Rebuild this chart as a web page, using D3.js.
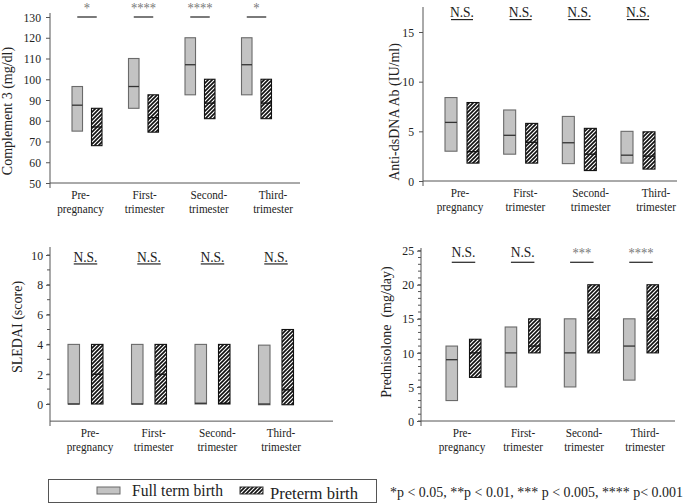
<!DOCTYPE html>
<html><head><meta charset="utf-8">
<script src="https://cdn.jsdelivr.net/npm/d3@7"></script>
<style>html,body{margin:0;padding:0;background:#fff;} svg{display:block;}</style>
</head><body>
<script>
// ---------------- DATA ----------------
const categories = ["Pre-pregnancy", "First-trimester", "Second-trimester", "Third-trimester"];
const categoryLines = [["Pre-", "pregnancy"], ["First-", "trimester"], ["Second-", "trimester"], ["Third-", "trimester"]];
const series = ["Full term birth", "Preterm birth"];

// [low, median, high]
const c3Full     = [[75, 87.5, 96.5], [86, 96.5, 110], [92.5, 107, 120], [92.5, 107, 120]];
const c3Preterm  = [[68, 77, 86], [74.5, 81.5, 92.5], [81, 88.5, 100], [81, 88.5, 100]];
const c3Sig      = ["*", "****", "****", "*"];
const c3Ticks    = [50, 60, 70, 80, 90, 100, 110, 120, 130];

const dnaFull    = [[3.0, 5.9, 8.4], [2.7, 4.6, 7.15], [1.75, 3.85, 6.5], [1.8, 2.6, 5.0]];
const dnaPreterm = [[1.8, 2.95, 7.9], [1.8, 3.9, 5.8], [1.05, 2.7, 5.3], [1.2, 2.5, 4.95]];
const dnaSig     = ["N.S.", "N.S.", "N.S.", "N.S."];
const dnaTicks   = [0, 5, 10, 15];

const sledaiFull    = [[0, 0, 4], [0, 0, 4], [0, 0.05, 4], [-0.05, 0, 3.95]];
const sledaiPreterm = [[0, 2, 4], [0, 2, 4], [0, 0.05, 4], [-0.05, 0.95, 5]];
const sledaiSig     = ["N.S.", "N.S.", "N.S.", "N.S."];
const sledaiTicks   = [0, 2, 4, 6, 8, 10];

const predFull    = [[3, 9, 11], [5, 10, 13.8], [5, 10, 15], [6, 11, 15]];
const predPreterm = [[6.4, 10, 12], [10, 11, 15], [10, 15, 20], [10, 15, 20]];
const predSig     = ["N.S.", "N.S.", "***", "****"];
const predTicks   = [0, 5, 10, 15, 20, 25];

const footnote = "*p < 0.05, **p < 0.01, *** p < 0.005, **** p< 0.001";

// ---------------- LAYOUT ----------------
const W = 685, H = 503;
const FONT = "'Liberation Serif', 'Times New Roman', serif";
const svg = d3.select("body").append("svg").attr("width", W).attr("height", H);

const defs = svg.append("defs");
const pat = defs.append("pattern").attr("id", "hatch").attr("patternUnits", "userSpaceOnUse")
  .attr("width", 4).attr("height", 4);
pat.append("rect").attr("width", 4).attr("height", 4).attr("fill", "#fff");
pat.append("path").attr("d", "M-1,1 l2,-2 M0,4 l4,-4 M3,5 l2,-2")
  .attr("stroke", "#111").attr("stroke-width", 1.65);

function squish(sel, k) {
  sel.each(function () {
    const len = this.getComputedTextLength();
    d3.select(this).attr("textLength", len * k).attr("lengthAdjust", "spacingAndGlyphs");
  });
}

const panels = [
  { full: c3Full, pre: c3Preterm, sig: c3Sig, ticks: c3Ticks, domain: [50, 130], yRange: [183, 17],
    axisX: 50, axisRight: 300, axisTop: 13, axisBottom: 188, xAxisVal: 50,
    centers: [87, 256.5], labelRange: [80.5, 273], half: 15, pi: 0.46,
    sigVal: 130, sigDy: -5, title: "Complement 3 (mg/dl)", titleX: 12, titleY: 111, minor: null, tickPad: 5 },
  { full: dnaFull, pre: dnaPreterm, sig: dnaSig, ticks: dnaTicks, domain: [0, 15], yRange: [181, 32],
    axisX: 423, axisRight: 677, axisTop: 7, axisBottom: 186, xAxisVal: 0,
    centers: [462, 638], labelRange: [460, 656], half: 17, pi: 0.455,
    sigVal: 16.25, sigDy: -3, title: "Anti-dsDNA Ab (IU/ml)", titleX: 398.5, titleY: 112, minor: null, tickPad: 5 },
  { full: sledaiFull, pre: sledaiPreterm, sig: sledaiSig, ticks: sledaiTicks, domain: [0, 10], yRange: [404, 255],
    axisX: 50, axisRight: 333, axisTop: 247, axisBottom: 426, xAxisVal: -1.15,
    centers: [85.5, 276], labelRange: [90, 281], half: 17.5, pi: 0.51,
    sigVal: 9.4, sigDy: -1.5, title: "SLEDAI (score)", titleX: 21.5, titleY: 327, minor: 1, tickPad: 3 },
  { full: predFull, pre: predPreterm, sig: predSig, ticks: predTicks, domain: [0, 25], yRange: [421, 250.7],
    axisX: 421, axisRight: 675, axisTop: 248, axisBottom: 426, xAxisVal: 0,
    centers: [463.5, 641], labelRange: [462, 645], half: 17.5, pi: 0.51,
    sigVal: 23.3, sigDy: -5, title: "Prednisolone  (mg/day)", titleX: 390.5, titleY: 332, minor: 1, tickPad: 3 }
];

panels.forEach(p => {
  const g = svg.append("g");
  const y = d3.scaleLinear().domain(p.domain).range(p.yRange);
  const xc = d3.scalePoint().domain(categories).range(p.centers);
  const xl = d3.scalePoint().domain(categories).range(p.labelRange);
  const inner = d3.scaleBand().domain(series).range([-p.half, p.half]).paddingInner(p.pi);
  const bw = inner.bandwidth();

  // minor ticks
  if (p.minor) {
    const mt = d3.range(p.domain[0], p.domain[1] + 0.001, p.minor);
    g.selectAll(".minor").data(mt).join("line")
      .attr("x1", p.axisX - 3).attr("x2", p.axisX)
      .attr("y1", d => y(d)).attr("y2", d => y(d))
      .attr("stroke", "#555").attr("stroke-width", 1);
  }

  // y axis
  const ax = g.append("g").attr("transform", `translate(${p.axisX},0)`)
    .call(d3.axisLeft(y).tickValues(p.ticks).tickSize(4).tickPadding(p.tickPad).tickFormat(d3.format("d")));
  ax.select(".domain").remove();
  ax.selectAll(".tick line").attr("stroke", "#555");
  ax.selectAll(".tick text").attr("font-family", FONT).attr("font-size", 13).attr("fill", "#222").call(squish, 0.9);

  // axis lines
  g.append("line").attr("x1", p.axisX).attr("x2", p.axisX).attr("y1", p.axisTop).attr("y2", p.axisBottom)
    .attr("stroke", "#555").attr("stroke-width", 1);
  g.append("line").attr("x1", p.axisX).attr("x2", p.axisRight).attr("y1", y(p.xAxisVal)).attr("y2", y(p.xAxisVal))
    .attr("stroke", "#555").attr("stroke-width", 1);

  // boxes
  const rows = [];
  categories.forEach((c, i) => {
    rows.push({ c, s: series[0], v: p.full[i] });
    rows.push({ c, s: series[1], v: p.pre[i] });
  });
  const bx = d => xc(d.c) + inner(d.s);
  g.selectAll(".box").data(rows).join("rect")
    .attr("x", bx).attr("width", bw)
    .attr("y", d => y(d.v[2])).attr("height", d => y(d.v[0]) - y(d.v[2]))
    .attr("fill", d => d.s === series[0] ? "#c3c3c3" : "url(#hatch)")
    .attr("stroke", d => d.s === series[0] ? "#6a6a6a" : "#111")
    .attr("stroke-width", 1.1);
  g.selectAll(".med").data(rows).join("line")
    .attr("x1", bx).attr("x2", d => bx(d) + bw)
    .attr("y1", d => y(d.v[1])).attr("y2", d => y(d.v[1]))
    .attr("stroke", d => d.s === series[0] ? "#333" : "#111")
    .attr("stroke-width", 1.3);

  // significance
  const sy = y(p.sigVal);
  g.selectAll(".sigline").data(categories).join("line")
    .attr("x1", c => xc(c) + inner(series[0]) + bw / 2)
    .attr("x2", c => xc(c) + inner(series[1]) + bw / 2)
    .attr("y1", sy).attr("y2", sy)
    .attr("stroke", "#222").attr("stroke-width", 1.2);
  g.selectAll(".sigtext").data(categories).join("text")
    .attr("x", c => xc(c)).attr("y", (c, i) => p.sig[i] === "N.S." ? sy + p.sigDy : sy - 4.5)
    .attr("text-anchor", "middle")
    .attr("font-family", FONT)
    .attr("font-size", (c, i) => p.sig[i] === "N.S." ? 15 : 14)
    .attr("fill", (c, i) => p.sig[i] === "N.S." ? "#222" : "#777")
    .text((c, i) => p.sig[i])
    .call(squish, 0.9);

  // category labels
  const axY = y(p.xAxisVal);
  categories.forEach((c, i) => {
    categoryLines[i].forEach((ln, j) => {
      g.append("text").attr("x", xl(c)).attr("y", axY + 16 + j * 13.5)
        .attr("text-anchor", "middle").attr("font-family", FONT).attr("font-size", 13).attr("fill", "#222")
        .text(ln).call(squish, 0.86);
    });
  });

  // title
  g.append("text").attr("transform", `translate(${p.titleX},${p.titleY}) rotate(-90)`)
    .attr("text-anchor", "middle").attr("font-family", FONT).attr("font-size", 14).attr("fill", "#222")
    .attr("xml:space", "preserve").style("white-space", "pre")
    .text(p.title);
});

// ---------------- LEGEND ----------------
const lg = svg.append("g");
lg.append("rect").attr("x", 48.5).attr("y", 479.5).attr("width", 328).attr("height", 23)
  .attr("fill", "#fff").attr("stroke", "#555").attr("stroke-width", 1);
const legendItems = [
  { s: series[0], sx: 97, tx: 132, ty: 496, tw: 91 },
  { s: series[1], sx: 240, tx: 270, ty: 498.5, tw: 88 }
];
legendItems.forEach(it => {
  lg.append("rect").attr("x", it.sx).attr("y", 487).attr("width", 23).attr("height", 7)
    .attr("fill", it.s === series[0] ? "#c3c3c3" : "url(#hatch)")
    .attr("stroke", it.s === series[0] ? "#6a6a6a" : "#333").attr("stroke-width", 1);
  lg.append("text").attr("x", it.tx).attr("y", it.ty).attr("font-family", FONT).attr("font-size", 16)
    .attr("fill", "#222").attr("textLength", it.tw).attr("lengthAdjust", "spacingAndGlyphs").text(it.s);
});
svg.append("text").attr("x", 390).attr("y", 497).attr("font-family", FONT).attr("font-size", 14)
  .attr("fill", "#222").attr("textLength", 293).attr("lengthAdjust", "spacingAndGlyphs").text(footnote);
</script>
</body></html>
